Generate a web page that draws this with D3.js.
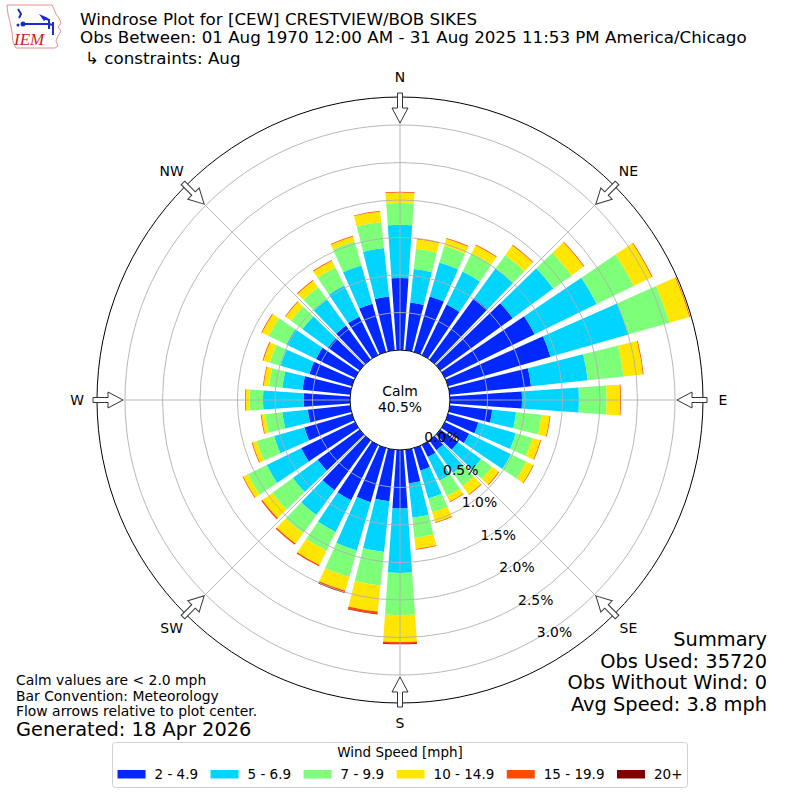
<!DOCTYPE html>
<meta charset="utf-8">
<style>
body { margin: 0; background: #fff; }
svg { font-family: "DejaVu Sans", sans-serif; }
</style>
<svg width="800" height="800"></svg>
<script src="https://d3js.org/d3.v7.min.js"></script>
<script>

// ---- data ----
var directions = [0, 10, 20, 30, 40, 50, 60, 70, 80, 90, 100, 110, 120, 130, 140, 150, 160, 170,
                  180, 190, 200, 210, 220, 230, 240, 250, 260, 270, 280, 290, 300, 310, 320, 330, 340, 350];

var speedBins = ["2 - 4.9", "5 - 6.9", "7 - 9.9", "10 - 14.9", "15 - 19.9", "20+"];
var binColors = ["#0028ff", "#00d4ff", "#7dff7a", "#ffe600", "#ff4a00", "#800000"];

// percent of obs per direction, one list per speed bin
var pct2to5   = [0.96, 0.64, 0.77, 0.75, 1.01, 1.19, 1.33, 1.42, 1.09, 0.96, 0.57, 0.42, 0.36, 0.29, 0.16, 0.18, 0.31, 0.45,
                 0.78, 0.69, 0.75, 0.82, 0.82, 0.69, 0.80, 0.66, 0.57, 0.62, 0.64, 0.59, 0.58, 0.52, 0.56, 0.57, 0.67, 0.72];
var pct5to7   = [0.71, 0.45, 0.47, 0.49, 0.49, 0.67, 0.92, 1.08, 0.76, 0.76, 0.32, 0.52, 0.62, 0.38, 0.38, 0.35, 0.39, 0.46,
                 0.86, 0.68, 0.67, 0.47, 0.41, 0.41, 0.51, 0.42, 0.34, 0.54, 0.27, 0.40, 0.44, 0.42, 0.43, 0.46, 0.53, 0.65];
var pct7to10  = [0.29, 0.27, 0.23, 0.27, 0.22, 0.30, 0.55, 0.57, 0.48, 0.37, 0.34, 0.23, 0.23, 0.18, 0.21, 0.23, 0.19, 0.27,
                 0.56, 0.45, 0.37, 0.28, 0.30, 0.34, 0.28, 0.24, 0.23, 0.18, 0.18, 0.15, 0.26, 0.19, 0.20, 0.27, 0.33, 0.35];
var pct10to15 = [0.14, 0.13, 0.10, 0.12, 0.16, 0.20, 0.27, 0.28, 0.26, 0.18, 0.11, 0.11, 0.10, 0.11, 0.14, 0.08, 0.14, 0.15,
                 0.36, 0.35, 0.19, 0.21, 0.17, 0.16, 0.07, 0.06, 0.05, 0.05, 0.07, 0.09, 0.10, 0.09, 0.11, 0.10, 0.07, 0.14];
var pct15to20 = [0.01, 0.01, 0.01, 0.01, 0.01, 0.01, 0.01, 0.01, 0.01, 0.01, 0.01, 0.01, 0.01, 0.01, 0.01, 0.01, 0.01, 0.01,
                 0.02, 0.03, 0.02, 0.02, 0.02, 0.02, 0.01, 0.01, 0.01, 0.01, 0.01, 0.01, 0.01, 0.01, 0.01, 0.01, 0.01, 0.01];
var pct20plus = [0, 0, 0, 0, 0, 0, 0, 0, 0, 0, 0, 0, 0, 0, 0, 0, 0, 0,
                 0.01, 0.01, 0.01, 0, 0, 0, 0, 0, 0, 0, 0, 0, 0, 0, 0, 0, 0, 0];

var radialTicks = [0, 0.5, 1, 1.5, 2, 2.5, 3];
var compassLabels = ["N", "NE", "E", "SE", "S", "SW", "W", "NW"];
var compassAngles = [0, 45, 90, 135, 180, 225, 270, 315];
var calmPct = 40.5;

var titleLines = ["Windrose Plot for [CEW] CRESTVIEW/BOB SIKES",
                  "Obs Between: 01 Aug 1970 12:00 AM - 31 Aug 2025 11:53 PM America/Chicago",
                  "\u21b3 constraints: Aug"];
var noteLines = ["Calm values are < 2.0 mph", "Bar Convention: Meteorology", "Flow arrows relative to plot center."];
var summaryLines = ["Summary", "Obs Used: 35720", "Obs Without Wind: 0", "Avg Speed: 3.8 mph"];

// ---- setup ----
var svg = d3.select("svg"),
    cx = 400, cy = 400,
    g = svg.append("g").attr("transform", "translate(" + cx + "," + cy + ")");

var r = d3.scaleLinear().domain([0, 3.373]).range([50, 303]);
var ang = d3.scaleLinear().domain([0, 360]).range([0, 2 * Math.PI]);
var halfWidth = 4; // degrees

var keys = ["b0", "b1", "b2", "b3", "b4", "b5"];
var series = [pct2to5, pct5to7, pct7to10, pct10to15, pct15to20, pct20plus];
var rows = directions.map(function(d, i) {
  var row = {dir: d};
  keys.forEach(function(k, j) { row[k] = series[j][i]; });
  return row;
});

var stacked = d3.stack().keys(keys)(rows);

var arc = d3.arc()
    .innerRadius(function(d) { return r(d[0]); })
    .outerRadius(function(d) { return r(d[1]); })
    .startAngle(function(d) { return ang(d.data.dir - halfWidth); })
    .endAngle(function(d) { return ang(d.data.dir + halfWidth); });

g.append("g")
  .selectAll("g")
  .data(stacked)
  .enter().append("g")
    .attr("fill", function(d, i) { return binColors[i]; })
  .selectAll("path")
  .data(function(d) { return d.filter(function(s) { return s[1] > s[0]; }); })
  .enter().append("path")
    .attr("d", arc);

// grid on top of bars
g.append("g")
  .selectAll("circle")
  .data(radialTicks.slice(1))
  .enter().append("circle")
    .attr("r", function(d) { return r(d); })
    .attr("fill", "none")
    .attr("stroke", "#b0b0b0")
    .attr("stroke-width", 0.9);

g.append("g")
  .selectAll("line")
  .data(compassAngles)
  .enter().append("line")
    .attr("x1", function(d) { return r(0) * Math.sin(ang(d)); })
    .attr("y1", function(d) { return -r(0) * Math.cos(ang(d)); })
    .attr("x2", function(d) { return r.range()[1] * Math.sin(ang(d)); })
    .attr("y2", function(d) { return -r.range()[1] * Math.cos(ang(d)); })
    .attr("stroke", "#b0b0b0")
    .attr("stroke-width", 0.9);

// calm circle
g.append("circle")
    .attr("r", r(0))
    .attr("fill", "#fff")
    .attr("stroke", "#000")
    .attr("stroke-width", 1);

g.append("text")
    .attr("text-anchor", "middle")
    .attr("font-size", 13.9)
    .attr("y", -9)
    .attr("dy", "0.35em")
    .text("Calm");
g.append("text")
    .attr("text-anchor", "middle")
    .attr("font-size", 13.9)
    .attr("y", 7.5)
    .attr("dy", "0.35em")
    .text(calmPct.toFixed(1) + "%");

// outer frame
g.append("circle")
    .attr("r", r.range()[1])
    .attr("fill", "none")
    .attr("stroke", "#000")
    .attr("stroke-width", 1);

// radial tick labels
var labelAngle = 150;
g.append("g")
  .selectAll("text")
  .data(radialTicks)
  .enter().append("text")
    .attr("x", function(d) { return r(d) * Math.sin(ang(labelAngle)) + 17; })
    .attr("y", function(d) { return -r(d) * Math.cos(ang(labelAngle)) - 6; })
    .attr("dy", "0.35em")
    .attr("text-anchor", "middle")
    .attr("font-size", 13.9)
    .text(function(d) { return d.toFixed(1) + "%"; });

// flow arrows (pointing to center)
var arrowShape = "M0,-277 L-8,-292 L-2.5,-292 L-2.5,-307 L2.5,-307 L2.5,-292 L8,-292 Z";
g.append("g")
  .selectAll("path")
  .data(compassAngles)
  .enter().append("path")
    .attr("d", arrowShape)
    .attr("transform", function(d) { return "rotate(" + d + ")"; })
    .attr("fill", "#fff")
    .attr("stroke", "#333")
    .attr("stroke-width", 1);

g.append("g")
  .selectAll("text")
  .data(compassAngles)
  .enter().append("text")
    .attr("x", function(d) { return 323 * Math.sin(ang(d)); })
    .attr("y", function(d) { return -323 * Math.cos(ang(d)); })
    .attr("dy", "0.35em")
    .attr("text-anchor", "middle")
    .attr("font-size", 13.9)
    .text(function(d, i) { return compassLabels[i]; });

// ---- titles ----
svg.append("g")
  .selectAll("text")
  .data(titleLines)
  .enter().append("text")
    .attr("x", function(d, i) { return i == 2 ? 85 : 80; })
    .attr("y", function(d, i) { return [25, 43, 63.5][i]; })
    .attr("font-size", 16.7)
    .text(function(d) { return d; });

// logo
var logo = svg.append("g").attr("transform", "translate(6,5)");
logo.append("path")
    .attr("d", "M1,0 L46,0 L48,4 L50,9 L53,13 L55,18 L52,22 L55,26 L52,31 L50,36 L52,41 L49,43 L10,43 L7,37 L6,27 L4,17 L2,9 Z")
    .attr("fill", "#fff")
    .attr("stroke", "#e59090")
    .attr("stroke-width", 1);
logo.append("path")
    .attr("d", "M12,4 L15,9 L13,13 M16,19 L42,19 M36,12 L43,15 L43,24 M43,19 L47,20 M47,17 L47,30")
    .attr("fill", "none")
    .attr("stroke", "#1a2bd0")
    .attr("stroke-width", 2);
logo.append("path")
    .attr("d", "M33,9 L42,13 L38,16 Z")
    .attr("fill", "#1a2bd0");
logo.append("circle").attr("cx", 17).attr("cy", 19).attr("r", 2.5).attr("fill", "#1a2bd0");
logo.append("circle").attr("cx", 12).attr("cy", 20).attr("r", 1.5).attr("fill", "#1a2bd0");
logo.append("text")
    .attr("x", 8)
    .attr("y", 40)
    .attr("font-family", "Liberation Serif, serif")
    .attr("font-style", "italic")
    .attr("font-size", 17)
    .attr("fill", "#d02020")
    .text("IEM");

// ---- notes and summary ----
svg.append("g")
  .selectAll("text")
  .data(noteLines)
  .enter().append("text")
    .attr("x", 16)
    .attr("y", function(d, i) { return 685 + i * 15.5; })
    .attr("font-size", 13.9)
    .text(function(d) { return d; });

svg.append("text")
    .attr("x", 16)
    .attr("y", 736)
    .attr("font-size", 19.4)
    .text("Generated: 18 Apr 2026");

svg.append("g")
  .selectAll("text")
  .data(summaryLines)
  .enter().append("text")
    .attr("x", 767)
    .attr("y", function(d, i) { return 646 + i * 21.7; })
    .attr("text-anchor", "end")
    .attr("font-size", 19.4)
    .text(function(d) { return d; });

// ---- legend ----
var legend = svg.append("g");
legend.append("rect")
    .attr("x", 112.5)
    .attr("y", 742.5)
    .attr("width", 575)
    .attr("height", 45)
    .attr("rx", 3)
    .attr("fill", "#fff")
    .attr("stroke", "#d0d0d0");
legend.append("text")
    .attr("x", 400)
    .attr("y", 757)
    .attr("text-anchor", "middle")
    .attr("font-size", 13.5)
    .text("Wind Speed [mph]");

var items = legend.selectAll("g.item")
  .data(speedBins)
  .enter().append("g")
    .attr("class", "item");
items.append("rect")
    .attr("width", 28)
    .attr("height", 8.5)
    .attr("y", 770)
    .attr("fill", function(d, i) { return binColors[i]; });
items.append("text")
    .attr("x", 37)
    .attr("y", 779)
    .attr("font-size", 13.5)
    .text(function(d) { return d; });

var widths = [];
items.each(function() { widths.push(37 + d3.select(this).select("text").node().getComputedTextLength()); });
var spacing = 12.5;
var total = d3.sum(widths) + spacing * (widths.length - 1);
var xpos = 400 - total / 2;
items.attr("transform", function(d, i) {
  var x = xpos;
  xpos += widths[i] + spacing;
  return "translate(" + x + ",0)";
});
items.select("rect").attr("x", 0);

</script>
